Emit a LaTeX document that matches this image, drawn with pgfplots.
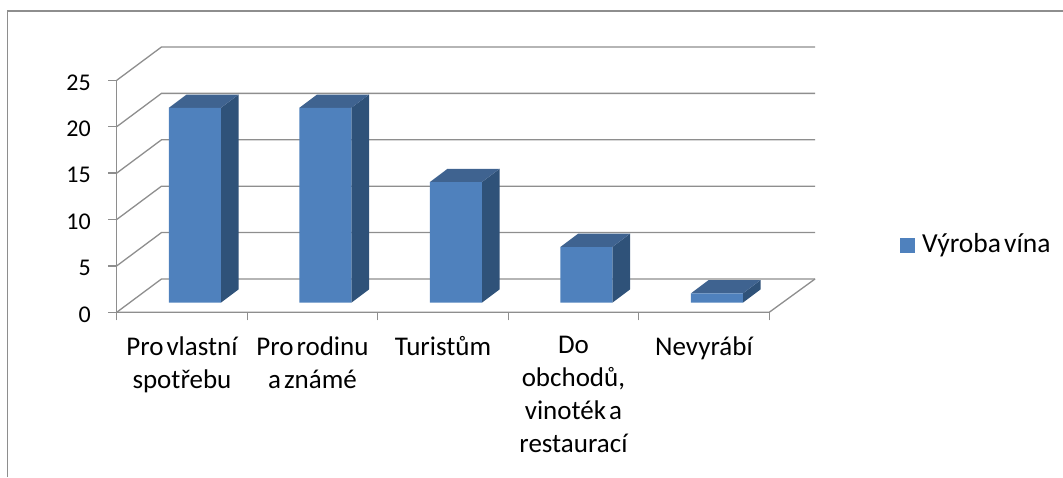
\documentclass[border=0pt]{standalone}
\usepackage{fontspec}
\setmainfont[WordSpace=0.5]{Carlito}
\usepackage{pgfplots}
\usepackage{pgfplotstable}
\pgfplotsset{compat=1.18}
\definecolor{front}{HTML}{4F81BD}
\definecolor{topf}{HTML}{3F6390}
\definecolor{sidef}{HTML}{2F5279}
\definecolor{gl}{HTML}{8E8E8E}
\pgfplotstableread{
x v
0.5 21
1.5 21
2.5 13
3.5 6
4.5 1
}\wine
% one grid line on the walls at value #1
\newcommand\gridl[1]{%
  \pgfmathsetmacro\yb{#1+3.59}%
  \addplot[gl,line width=1.3pt,forget plot] coordinates {(0,#1) (0.343,\yb) (5.351,\yb)};%
}
% side and top faces of the bar starting at #1 with value #2
\newcommand\barfaces[2]{%
  \pgfmathsetmacro\xa{#1+0.3996}%
  \pgfmathsetmacro\xb{#1+0.7981}%
  \pgfmathsetmacro\xc{#1+0.9337}%
  \pgfmathsetmacro\xd{#1+0.5352}%
  \pgfmathsetmacro\ya{1.034}%
  \pgfmathsetmacro\yb{#2+1.034}%
  \pgfmathsetmacro\yc{1.034+1.433}%
  \pgfmathsetmacro\yd{#2+1.034+1.433}%
  \addplot[draw=none,fill=sidef,forget plot] coordinates {(\xb,\ya) (\xc,\yc) (\xc,\yd) (\xb,\yb)} -- cycle;%
  \addplot[draw=none,fill=topf,forget plot] coordinates {(\xa,\yb) (\xb,\yb) (\xc,\yd) (\xd,\yd)} -- cycle;%
}
\begin{document}
\begin{tikzpicture}
\path[use as bounding box] (0pt,0pt) rectangle (1063pt,477pt);
\draw[gl,line width=1.3pt] (7.3pt,0pt) -- (7.3pt,466pt) -- (1063pt,466pt);
\begin{axis}[
  at={(116.7pt,164.7pt)}, anchor=south west,
  scale only axis, width=698.3pt, height=265.3pt,
  xmin=0, xmax=5.351, ymin=0, ymax=28.59,
  clip=false,
  axis line style={draw=none},
  tick align=outside, xtick pos=bottom, ytick pos=left,
  xtick={0.5,1.5,2.5,3.5,4.5},
  xticklabels={{Pro vlastní\\spotřebu},{Pro rodinu\\a známé},{Turistům},{Do\\obchodů,\\vinoték a\\restaurací},{Nevyrábí}},
  minor xtick={0,1,2,3,4,5},
  major x tick style={draw=none},
  minor x tick style={gl,line width=1.3pt},
  minor tick length=8pt,
  major tick length=8.5pt,
  y tick style={gl,line width=1.3pt},
  ytick={0,5,10,15,20,25},
  /pgf/number format/assume math mode=true,
  xticklabel style={align=center,anchor=north,yshift=-12pt,font=\fontsize{27}{33}\selectfont},
  yticklabel style={anchor=east,xshift=-14pt,yshift=-2pt,font=\fontsize{24}{28}\selectfont},
  legend style={at={(1.1217,0.26)},anchor=west,draw=none,fill=none,inner sep=0pt,
    font=\fontsize{27.5}{30}\selectfont},
]
\gridl{0}\gridl{5}\gridl{10}\gridl{15}\gridl{20}\gridl{25}
\addplot[gl,line width=1.3pt,forget plot] coordinates {(0,0) (0,25)};
\addplot[gl,line width=1.3pt,forget plot] coordinates {(0,0) (5,0) (5.351,3.59)};
\barfaces{0}{21}
\barfaces{1}{21}
\barfaces{2}{13}
\barfaces{3}{6}
\barfaces{4}{1}
\addplot[ybar,bar width=52pt,draw=none,fill=front,xshift=13pt,yshift=9.6pt,
  legend image code/.code={\fill[front] (0pt,-19pt) rectangle (15pt,-4pt);\path (20pt,0pt);}]
  table[x=x,y=v] {\wine};
\addlegendentry{Výroba vína}
\end{axis}
\end{tikzpicture}
\end{document}
